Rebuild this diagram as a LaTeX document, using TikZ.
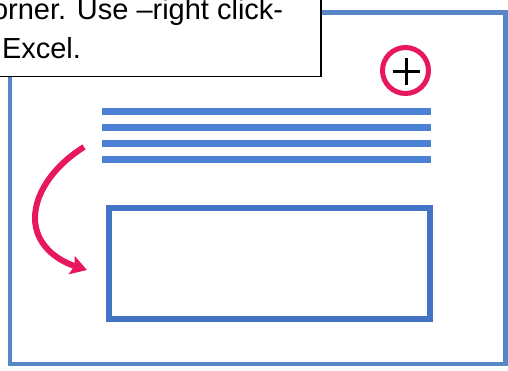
\documentclass[tikz,border=0pt]{standalone}
\usepackage{fontspec}
\setmainfont{Liberation Sans}
\usetikzlibrary{arrows.meta}
\definecolor{framecol}{HTML}{5787C6}
\definecolor{barcol}{HTML}{4C80D2}
\definecolor{rectcol}{HTML}{4472C4}
\definecolor{pinkcol}{HTML}{E8185E}
\begin{document}
\begin{tikzpicture}[x=1pt,y=-1pt,
  framebox/.style={draw=framecol,line width=4.5pt,rectangle,inner sep=0pt,outer sep=0pt},
  barline/.style={fill=barcol,rectangle,inner sep=0pt,outer sep=0pt,minimum width=329pt,minimum height=7pt},
  targetbox/.style={draw=rectcol,line width=6pt,rectangle,inner sep=0pt,outer sep=0pt},
  plusring/.style={draw=pinkcol,line width=5pt,circle,inner sep=0pt,outer sep=0pt,minimum size=46pt},
  plussign/.style={draw=black,line width=3pt},
  callout/.style={draw=black,fill=white,line width=1.8pt,rectangle,inner sep=0pt,outer sep=0pt},
  calltext/.style={inner sep=0pt,outer sep=0pt,font=\fontsize{29}{40}\selectfont,anchor=base west},
  movearrow/.style={draw=pinkcol,line width=6pt,-{Stealth[length=16pt,width=19pt,inset=3pt]}}
]
\useasboundingbox (0,0) rectangle (508,370);
\clip (0,0) rectangle (508,370);
\fill[white] (0,0) rectangle (508,370);
% outer frame
\node[framebox,minimum width=495.5pt,minimum height=351.5pt] (frame) at (257.75,188.25) {};
% text lines
\node[barline] (bar1) at (266.5,111) {};
\node[barline] (bar2) at (266.5,127) {};
\node[barline] (bar3) at (266.5,143) {};
\node[barline] (bar4) at (266.5,159) {};
% target rectangle
\node[targetbox,minimum width=321pt,minimum height=111pt] (target) at (269.5,263.5) {};
% plus button
\node[plusring] (ring) at (405.5,70.5) {};
\coordinate (pl) at (392.5,71.5);
\coordinate (pr) at (419.5,71.5);
\coordinate (pt) at (406,58);
\coordinate (pb) at (406,85);
\draw[plussign] (pl) -- (pr);
\draw[plussign] (pt) -- (pb);
% curved arrow
\coordinate (arrS) at (84,147);
\coordinate (arrE) at (87,270);
\draw[movearrow] (arrS) .. controls (58,163) and (35,190) .. (35,218) .. controls (35,244) and (56,260) .. (arrE);
% callout box
\node[callout,minimum width=340pt,minimum height=90pt,anchor=south east] (callbox) at (321,76.5) {};
\node[calltext] (line1) at (-8,19) {orner. Use –right click-};
\node[calltext] (line2) at (2,58.5) {Excel.};
\end{tikzpicture}
\end{document}
